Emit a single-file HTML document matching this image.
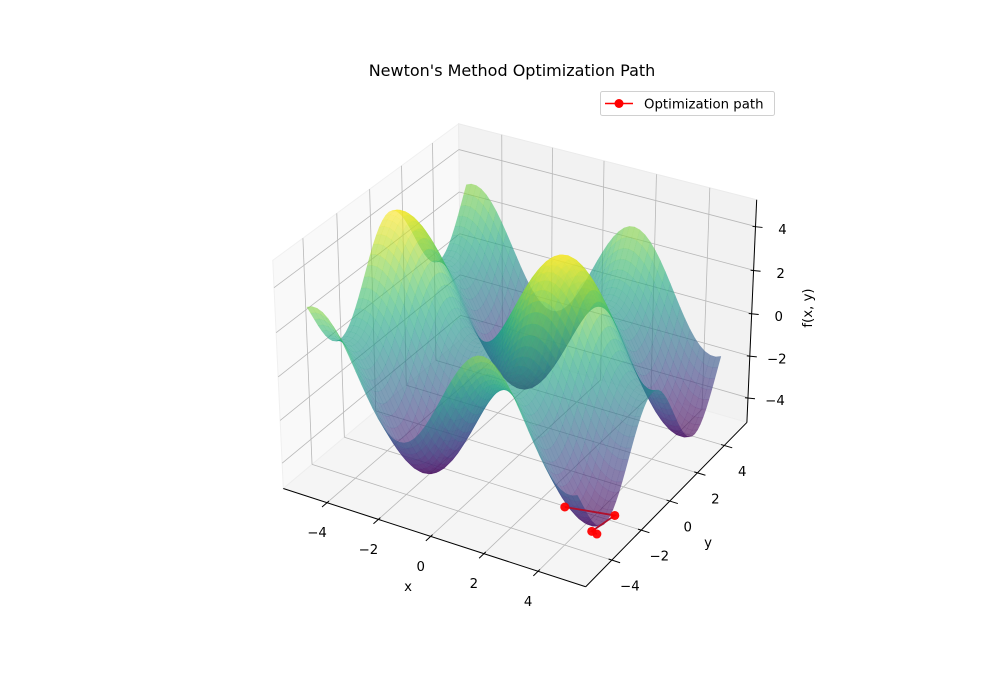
<!DOCTYPE html>
<html><head><meta charset="utf-8"><title>Newton's Method Optimization Path</title>
<style>
html,body{margin:0;padding:0;background:#fff;}
#chart{display:block;width:1000px;height:700px;}
text{font-family:"DejaVu Sans","Liberation Sans",sans-serif;fill:#000;}
</style></head>
<body>
<svg id="chart" width="1000" height="700" viewBox="0 0 1000 700" xmlns="http://www.w3.org/2000/svg">
<text x="512" y="76" font-size="16" text-anchor="middle">Newton's Method Optimization Path</text>
<g id="panes"></g>
<g id="grid"></g>
<g id="axes"></g>
<g id="surface"></g>
<g id="path"></g>
<g id="labels"></g>
<text x="408" y="591" font-size="13.3" text-anchor="middle">x</text>
<text x="708" y="547" font-size="13.3" text-anchor="middle">y</text>
<text x="812" y="308" font-size="13.3" text-anchor="middle" transform="rotate(-90 812 308)">f(x, y)</text>
<g>
<rect x="600.5" y="91.5" width="174" height="24" rx="2" fill="#fff" stroke="#d0d0d0" stroke-width="1"/>
<line x1="605" y1="103.5" x2="633" y2="103.5" stroke="#ff0000" stroke-width="1.5"/>
<circle cx="619" cy="103.5" r="4.5" fill="#ff0000"/>
<text x="644" y="108.3" font-size="13.3">Optimization path</text>
</g>
</svg>
<script>
// ---- data ----
const xTicks = [-4, -2, 0, 2, 4];
const yTicks = [-4, -2, 0, 2, 4];
const zTicks = [-4, -2, 0, 2, 4];
const xTickLabels = ["−4", "−2", "0", "2", "4"];
const yTickLabels = ["−4", "−2", "0", "2", "4"];
const zTickLabels = ["−4", "−2", "0", "2", "4"];
const pathX = [3.34, 4.75, 4.52, 4.71];
const pathY = [-2.82, -2.0, -3.14, -3.14];
const pathZ = [-4.5, -4.9, -4.95, -5.0];
const surfAmpX = [2.5];
const surfAmpY = [2.0];
const gridN = 50;
const XMIN = -5, XMAX = 5, YMIN = -5, YMAX = 5;

// ---- projection (elev 30, azim -60, perspective) ----
const XL = 5.73, ZMIN = -5.2, ZMAX = 5.2;
const BX = 0.571, BZ = 0.4286;
const E = [0.433, -0.75, 0.5], U = [0.75, 0.433, 0], V = [-0.2165, 0.375, 0.75];
const K = 3504, CX = 519.2, CY = 344.6;
function proj(x, y, z) {
  const w = [x / XL * BX, y / XL * BX, (z - (ZMIN + ZMAX) / 2) / (ZMAX - ZMIN) * 2 * BZ];
  const d = 10 - (w[0]*E[0] + w[1]*E[1] + w[2]*E[2]);
  const su = (w[0]*U[0] + w[1]*U[1]) / d;
  const sv = (w[0]*V[0] + w[1]*V[1] + w[2]*V[2]) / d;
  return [CX + K * su, CY - K * sv, d];
}
const NS = "http://www.w3.org/2000/svg";
function mk(tag, parent, attrs) {
  const el = document.createElementNS(NS, tag);
  for (const k in attrs) el.setAttribute(k, attrs[k]);
  parent.appendChild(el);
  return el;
}
function pts(list) { return list.map(p => { const q = proj(p[0], p[1], p[2]); return q[0].toFixed(2) + "," + q[1].toFixed(2); }).join(" "); }

// panes
const panes = document.getElementById("panes");
let el;
el = mk("polygon", panes, {points: pts([[-XL,-XL,ZMIN],[-XL,XL,ZMIN],[-XL,XL,ZMAX],[-XL,-XL,ZMAX]]), fill: "#f9f9f9", stroke: "#f0f0f0"});


el = mk("polygon", panes, {points: pts([[-XL,XL,ZMIN],[XL,XL,ZMIN],[XL,XL,ZMAX],[-XL,XL,ZMAX]]), fill: "#f2f2f2", stroke: "#ebebeb"});


el = mk("polygon", panes, {points: pts([[-XL,-XL,ZMIN],[XL,-XL,ZMIN],[XL,XL,ZMIN],[-XL,XL,ZMIN]]), fill: "#f5f5f5", stroke: "#eeeeee"});



// grid
const grid = document.getElementById("grid");
function gline(a, b, name) {
  const p = proj(a[0],a[1],a[2]), q = proj(b[0],b[1],b[2]);
  const l = mk("line", grid, {x1: p[0], y1: p[1], x2: q[0], y2: q[1], stroke: "#b8b8b8", "stroke-width": 0.8});
  
  
}
xTicks.forEach(t => { gline([t,-XL,ZMIN],[t,XL,ZMIN],'x-grid-line'); gline([t,XL,ZMIN],[t,XL,ZMAX],'x-grid-line'); });
yTicks.forEach(t => { gline([-XL,t,ZMIN],[XL,t,ZMIN],'y-grid-line'); gline([-XL,t,ZMIN],[-XL,t,ZMAX],'y-grid-line'); });
zTicks.forEach(t => { gline([-XL,-XL,t],[-XL,XL,t],'z-grid-line'); gline([-XL,XL,t],[XL,XL,t],'z-grid-line'); });

// axes lines and ticks
const axes = document.getElementById("axes");
function aline(a, b, name) {
  const p = proj(a[0],a[1],a[2]), q = proj(b[0],b[1],b[2]);
  const l = mk("line", axes, {x1: p[0], y1: p[1], x2: q[0], y2: q[1], stroke: "#000", "stroke-width": 1});
  
  
}
aline([-XL,-XL,ZMIN],[XL,-XL,ZMIN],'x-axis-line');
aline([XL,-XL,ZMIN],[XL,XL,ZMIN],'y-axis-line');
aline([XL,XL,ZMIN],[XL,XL,ZMAX],'z-axis-line');
const labels = document.getElementById("labels");
function tlabel(x, y, s, name) {
  const t = mk("text", labels, {x: x, y: y + 4.5, "font-size": 13.3, "text-anchor": "middle"});
  t.textContent = s;
  
  
}
xTicks.forEach((t, i) => {
  aline([t,-XL+0.12,ZMIN],[t,-XL-0.3,ZMIN],'x-tick');
  const p = proj(t,-XL,ZMIN);
  tlabel(p[0]-10, p[1]+30, xTickLabels[i], 'x-tick-label');
});
yTicks.forEach((t, i) => {
  aline([XL-0.12,t,ZMIN],[XL+0.3,t,ZMIN],'y-tick');
  const p = proj(XL,t,ZMIN);
  tlabel(p[0]+18, p[1]+26, yTickLabels[i], 'y-tick-label');
});
zTicks.forEach((t, i) => {
  const p = proj(XL,XL,t);
  const l = mk("line", axes, {x1: p[0]-3, y1: p[1], x2: p[0]+7, y2: p[1]+1, stroke: "#000", "stroke-width": 1});
  
  
  tlabel(p[0]+27, p[1]+3, zTickLabels[i], 'z-tick-label');
});

// surface
const VIR = ["#440154","#482475","#414487","#355f8d","#2a788e","#21918c","#22a884","#44bf70","#7ad151","#bddf26","#fde725"];
function hex(c){return [parseInt(c.substr(1,2),16),parseInt(c.substr(3,2),16),parseInt(c.substr(5,2),16)];}
function viridis(t) {
  t = Math.max(0, Math.min(1, t)) * 10;
  const i = Math.min(9, Math.floor(t)), f = t - i;
  const a = hex(VIR[i]), b = hex(VIR[i+1]);
  return "rgb(" + a.map((v, k) => Math.round(v + (b[k]-v)*f)).join(",") + ")";
}
function f(x, y) { return surfAmpX[0] * Math.sin(x) + surfAmpY[0] * Math.cos(y); }
const gx = [], gy = [];
for (let i = 0; i <= gridN; i++) { gx.push(XMIN + (XMAX-XMIN)*i/gridN); gy.push(YMIN + (YMAX-YMIN)*i/gridN); }
const Z = gx.map(x => gy.map(y => f(x, y)));
let zmin = Infinity, zmax = -Infinity;
Z.forEach(r => r.forEach(v => { zmin = Math.min(zmin, v); zmax = Math.max(zmax, v); }));
const faces = [];
for (let i = 0; i < gridN; i++) for (let j = 0; j < gridN; j++) {
  const c = [[gx[i],gy[j],Z[i][j]],[gx[i+1],gy[j],Z[i+1][j]],[gx[i+1],gy[j+1],Z[i+1][j+1]],[gx[i],gy[j+1],Z[i][j+1]]];
  const P = c.map(p => proj(p[0],p[1],p[2]));
  const depth = P.reduce((s,p)=>s+p[2],0)/4;
  const zavg = (c[0][2]+c[1][2]+c[2][2]+c[3][2])/4;
  faces.push({P, depth, zavg});
}
faces.sort((a,b)=>b.depth-a.depth);
const surf = document.getElementById("surface");
faces.forEach(fc => {
  const col = viridis((fc.zavg - zmin)/(zmax - zmin));
  const pg = mk("polygon", surf, {points: fc.P.map(p=>p[0].toFixed(2)+","+p[1].toFixed(2)).join(" "), fill: col, "fill-opacity": 0.62, stroke: col, "stroke-opacity": 0.25, "stroke-width": 0.3});
  
  
});

// optimization path
const pathG = document.getElementById("path");
const PP = pathX.map((x,i)=>proj(x, pathY[i], pathZ[i]));
const pl = mk("polyline", pathG, {points: PP.map(p=>p[0].toFixed(2)+","+p[1].toFixed(2)).join(" "), fill: "none", stroke: "#b0102c", "stroke-width": 1.8});


PP.forEach(p => {
  const c = mk("circle", pathG, {cx: p[0], cy: p[1], r: 4.5, fill: "#ff0000", "fill-opacity": 0.95});
  
  
});
</script>
</body></html>
